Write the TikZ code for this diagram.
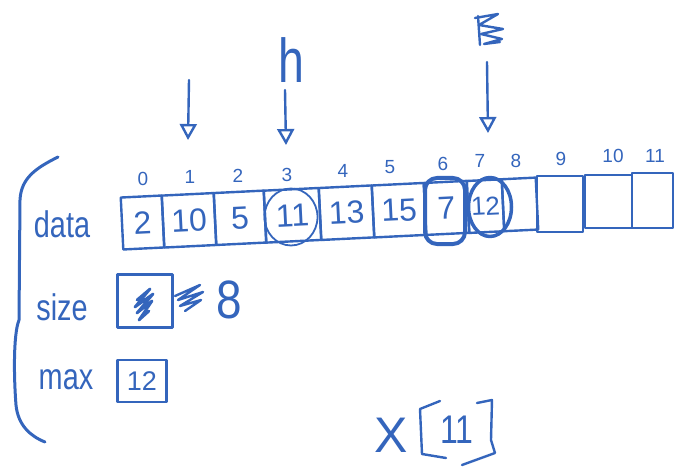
\documentclass[tikz,border=0pt]{standalone}
\usepackage{fontspec}
\setmainfont{Liberation Sans}
\usetikzlibrary{arrows.meta,shapes.geometric}
\definecolor{ink}{RGB}{52,101,188}
\begin{document}
\begin{tikzpicture}[x=1pt,y=-1pt,line cap=round,line join=round,
  pen/.style={draw=ink,line width=2.4pt},
  heavy/.style={draw=ink,line width=4pt},
  cell/.style={pen,rotate=2.8,inner sep=0pt,minimum height=52pt,text=ink,
    font=\fontsize{32}{32}\selectfont},
  spare/.style={pen,inner sep=0pt,text=ink},
  idx/.style={text=ink,inner sep=0pt,font=\fontsize{19}{19}\selectfont},
  lbl/.style={text=ink,inner sep=0pt,xscale=0.78,font=\fontsize{37}{37}\selectfont},
  ptr/.style={pen,-{Triangle[open,length=16pt,width=17pt,line width=2.4pt]}}]
\useasboundingbox (0,0) rectangle (686,468);

% brace grouping the fields
\draw[pen,line width=3pt] (58,157) .. controls (36,168) and (21,178) .. (20,200)
  -- (19,320) .. controls (13,335) and (14,380) .. (16,405)
  .. controls (18,425) and (30,436) .. (45,442);

% field names
\node[lbl] (ldata) at (62,224) {data};
\node[lbl] (lsize) at (62,307) {size};
\node[lbl] (lmax)  at (66,380) {max};

% the data array
\node[cell,minimum width=41] (c0) at (142.5,222.5) {2};
\node[cell,minimum width=52] (c1) at (189,220.3) {10};
\node[cell,minimum width=50] (c2) at (240,217.8) {5};
\node[cell,minimum width=55] (c3) at (292.5,215.3) {11};
\node[cell,minimum width=53] (c4) at (346.5,212.7) {13};
\node[cell,minimum width=52] (c5) at (399,210.2) {15};
\node[cell,minimum width=43] (c6) at (446.5,207.9) {7};
\node[cell,minimum width=35,font=\fontsize{26}{26}\selectfont] (c7) at (485.5,206.1) {12};
\node[cell,minimum width=34] (c8) at (520,204.4) {};
\node[spare,minimum width=46,minimum height=56] (c9)  at (560,204) {};
\node[spare,minimum width=47,minimum height=53] (c10) at (608.5,201.5) {};
\node[spare,minimum width=41,minimum height=55] (c11) at (652.5,200.5) {};

% marks around cells
\node[draw=ink,line width=1.8pt,ellipse,minimum width=53,minimum height=57] (m3) at (291,217) {};
\node[heavy,rounded corners=12pt,minimum width=40,minimum height=66] (m6) at (445,211) {};
\node[draw=ink,line width=3.5pt,ellipse,minimum width=43,minimum height=59] (m7) at (490,207) {};

% indices
\node[idx] (i0)  at (143,179) {0};
\node[idx] (i1)  at (190,177) {1};
\node[idx] (i2)  at (238,176) {2};
\node[idx] (i3)  at (287,175) {3};
\node[idx] (i4)  at (343,171) {4};
\node[idx] (i5)  at (390,167) {5};
\node[idx] (i6)  at (443,164) {6};
\node[idx] (i7)  at (480,161) {7};
\node[idx] (i8)  at (516,161) {8};
\node[idx] (i9)  at (561,159) {9};
\node[idx] (i10) at (613,156) {10};
\node[idx] (i11) at (655,156) {11};

% pointers
\coordinate (p1s) at (189,80);  \coordinate (p1e) at (188,140);
\coordinate (p2s) at (285,90);  \coordinate (p2e) at (286,145);
\coordinate (p3s) at (487,62);  \coordinate (p3e) at (488,133);
\draw[ptr] (p1s) -- (p1e);
\draw[ptr] (p2s) -- (p2e);
\draw[ptr] (p3s) -- (p3e);
\node[text=ink,inner sep=0pt,xscale=0.75,font=\fontsize{62}{62}\selectfont] (hl) at (291,60) {h};
% crossed-out label
\draw[pen] (478,16) -- (480,45);
\draw[pen] (475,18) -- (498,14) -- (479,25) -- (503,29) -- (481,34) -- (502,39) -- (484,44) -- (500,42);

% size field
\node[pen,minimum width=55,minimum height=53] (bsize) at (145,301) {};
\draw[pen,line width=2.8pt] (137,300) -- (150,289) -- (135,307) -- (153,294) -- (137,313) -- (152,301) -- (139,320) -- (149,311);
\draw[pen] (175,296) -- (200,285) -- (178,300) -- (203,292) -- (180,306) -- (201,300) -- (185,311);
\node[text=ink,inner sep=0pt,xscale=0.85,font=\fontsize{54}{54}\selectfont] (v8) at (229,300) {8};

% max field
\node[pen,minimum width=49,minimum height=42,text=ink,font=\fontsize{27}{27}\selectfont] (bmax) at (142,381) {12};

% X[11]
\node[text=ink,inner sep=0pt,font=\fontsize{50}{50}\selectfont] (vx) at (391,435) {X};
\node[text=ink,inner sep=0pt,xscale=0.8,font=\fontsize{40}{40}\selectfont] (v11) at (457,430) {11};
\draw[pen] (440,401) -- (420,409) -- (422,454) -- (446,458);
\draw[pen] (477,403) -- (492,400) -- (491,440) -- (495,453) -- (462,465);
\end{tikzpicture}
\end{document}
